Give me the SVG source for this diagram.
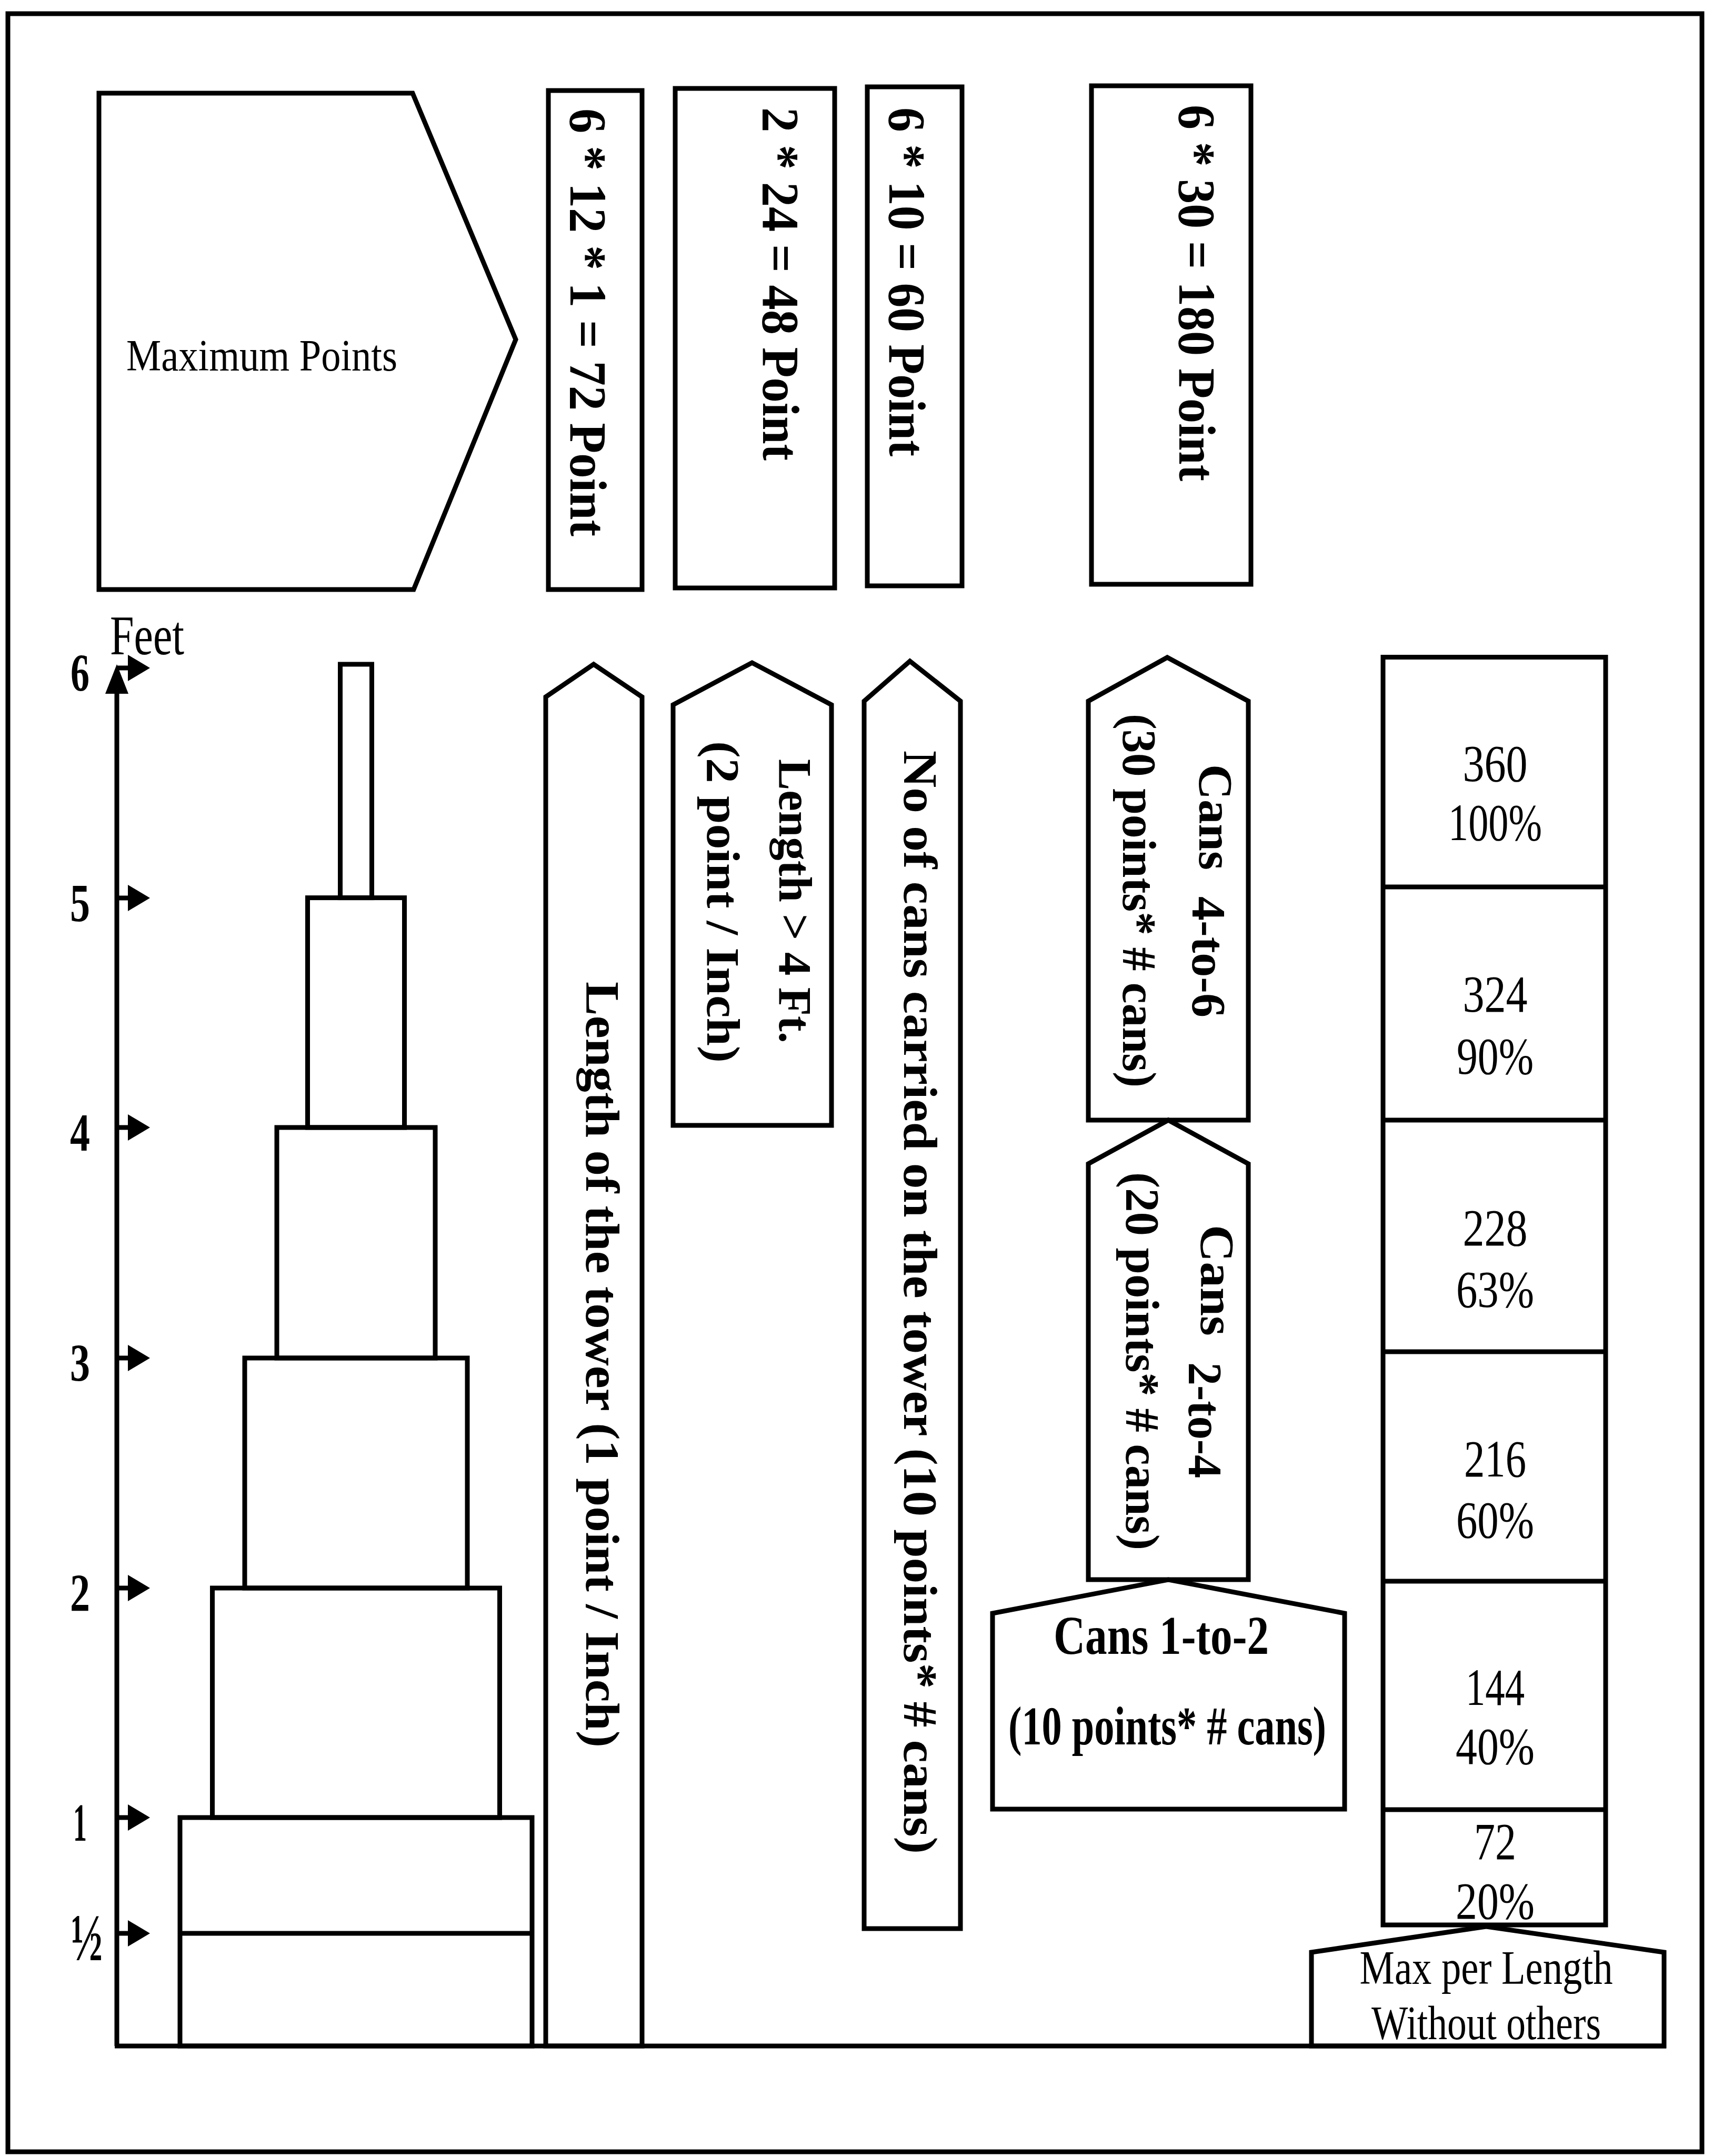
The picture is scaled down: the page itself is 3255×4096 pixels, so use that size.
<svg xmlns="http://www.w3.org/2000/svg" width="3255" height="4096" viewBox="0 0 3255 4096">
<style>
.s{fill:none;stroke:#000;stroke-width:9;stroke-linejoin:miter}
.f{fill:#000;stroke:none}
.r{font-family:"Liberation Serif","Times New Roman",serif;fill:#000}
.b{font-family:"Liberation Serif","Times New Roman",serif;font-weight:bold;fill:#000}
</style>
<rect width="3255" height="4096" fill="#fff"/>
<g id="frame"><rect class="s" x="15" y="26" width="3219" height="4062" stroke-width="10"/></g>

<g id="max-points">
<polygon class="s" points="188,177 784,177 980,645 786,1120 188,1120"/>
<text class="r" x="240" y="704" font-size="84" textLength="515" lengthAdjust="spacingAndGlyphs">Maximum Points</text>
</g>
<g id="box-72">
<rect class="s" x="1042" y="172" width="178" height="948"/>
<text class="b" transform="rotate(90)" x="206" y="-1084" font-size="100" textLength="813" lengthAdjust="spacingAndGlyphs">6 * 12 * 1 = 72 Point</text>
</g>
<g id="box-48">
<rect class="s" x="1283" y="168" width="303" height="949"/>
<text class="b" transform="rotate(90)" x="204" y="-1450" font-size="100" textLength="671" lengthAdjust="spacingAndGlyphs">2 * 24 = 48 Point</text>
</g>
<g id="box-60">
<rect class="s" x="1648" y="165" width="180" height="948"/>
<text class="b" transform="rotate(90)" x="204" y="-1690" font-size="100" textLength="663" lengthAdjust="spacingAndGlyphs">6 * 10 = 60 Point</text>
</g>
<g id="box-180">
<rect class="s" x="2074" y="163" width="303" height="947"/>
<text class="b" transform="rotate(90)" x="199" y="-2241" font-size="100" textLength="715" lengthAdjust="spacingAndGlyphs">6 * 30 = 180 Point</text>
</g>

<g id="axis">
<line class="s" x1="222" y1="3887" x2="222" y2="1300"/>
<polygon class="f" points="222,1262 200,1318 244,1318"/>
<line class="s" x1="218" y1="3887" x2="3166" y2="3887"/>
<text class="r" x="209" y="1243" font-size="106" textLength="141" lengthAdjust="spacingAndGlyphs">Feet</text>
<g id="ticks">
<line class="s" x1="222" y1="1269" x2="246" y2="1269" stroke-width="8"/><polygon class="f" points="243,1244 285,1269 243,1294"/>
<line class="s" x1="222" y1="1706" x2="246" y2="1706" stroke-width="8"/><polygon class="f" points="243,1681 285,1706 243,1731"/>
<line class="s" x1="222" y1="2142" x2="246" y2="2142" stroke-width="8"/><polygon class="f" points="243,2117 285,2142 243,2167"/>
<line class="s" x1="222" y1="2580" x2="246" y2="2580" stroke-width="8"/><polygon class="f" points="243,2555 285,2580 243,2605"/>
<line class="s" x1="222" y1="3017" x2="246" y2="3017" stroke-width="8"/><polygon class="f" points="243,2992 285,3017 243,3042"/>
<line class="s" x1="222" y1="3453" x2="246" y2="3453" stroke-width="8"/><polygon class="f" points="243,3428 285,3453 243,3478"/>
<line class="s" x1="222" y1="3673" x2="246" y2="3673" stroke-width="8"/><polygon class="f" points="243,3648 285,3673 243,3698"/>
</g>
<g id="tick-labels" class="b" font-size="102" text-anchor="middle">
<text x="152" y="1313" textLength="36" lengthAdjust="spacingAndGlyphs">6</text>
<text x="152" y="1750" textLength="38" lengthAdjust="spacingAndGlyphs">5</text>
<text x="152" y="2186" textLength="38" lengthAdjust="spacingAndGlyphs">4</text>
<text x="152" y="2624" textLength="38" lengthAdjust="spacingAndGlyphs">3</text>
<text x="152" y="3061" textLength="38" lengthAdjust="spacingAndGlyphs">2</text>
<text x="152" y="3497" textLength="26" lengthAdjust="spacingAndGlyphs">1</text>
<text x="165" y="3724" font-size="128" textLength="60" lengthAdjust="spacingAndGlyphs">½</text>
</g>
</g>

<g id="tower">
<rect class="s" x="646.5" y="1262" width="60" height="443.6"/>
<rect class="s" x="584.5" y="1705.6" width="184" height="436.4"/>
<rect class="s" x="526" y="2142" width="301" height="438"/>
<rect class="s" x="465" y="2580" width="423" height="437"/>
<rect class="s" x="403.5" y="3017" width="546" height="436"/>
<rect class="s" x="342" y="3453" width="669" height="434"/>
<line class="s" x1="342" y1="3673" x2="1011" y2="3673"/>
</g>

<g id="length-tower">
<polygon class="s" points="1037,3887 1037,1324 1128,1262 1220,1324 1220,3887"/>
<text class="b" transform="rotate(90)" x="1865" y="-1114" font-size="92" textLength="1455" lengthAdjust="spacingAndGlyphs">Length of the tower (1 point / Inch)</text>
</g>
<g id="length-4ft">
<polygon class="s" points="1279,2138 1279,1339 1429,1259 1580,1339 1580,2138"/>
<text class="b" transform="rotate(90)" x="1442" y="-1481" font-size="88" textLength="540" lengthAdjust="spacingAndGlyphs">Length &gt; 4 Ft.</text>
<text class="b" transform="rotate(90)" x="1408" y="-1344" font-size="88" textLength="611" lengthAdjust="spacingAndGlyphs">(2 point / Inch)</text>
</g>
<g id="no-of-cans">
<polygon class="s" points="1642,3664 1642,1332 1729,1256 1825,1332 1825,3664"/>
<text class="b" transform="rotate(90)" x="1426" y="-1718" font-size="92" textLength="2096" lengthAdjust="spacingAndGlyphs">No of cans carried on the tower (10 points* # cans)</text>
</g>
<g id="cans-4-6">
<polygon class="s" points="2068,2128 2068,1332 2218,1249 2372,1332 2372,2128"/>
<text class="b" transform="rotate(90)" x="1452" y="-2279" font-size="92" textLength="201" lengthAdjust="spacingAndGlyphs">Cans</text>
<text class="b" transform="rotate(90)" x="1703" y="-2266" font-size="92" textLength="230" lengthAdjust="spacingAndGlyphs">4-to-6</text>
<text class="b" transform="rotate(90)" x="1356" y="-2134" font-size="92" textLength="710" lengthAdjust="spacingAndGlyphs">(30 points* # cans)</text>
</g>
<g id="cans-2-4">
<polygon class="s" points="2068,3001 2068,2211 2220,2128 2372,2211 2372,3001"/>
<text class="b" transform="rotate(90)" x="2327" y="-2282" font-size="92" textLength="211" lengthAdjust="spacingAndGlyphs">Cans</text>
<text class="b" transform="rotate(90)" x="2588" y="-2259" font-size="92" textLength="220" lengthAdjust="spacingAndGlyphs">2-to-4</text>
<text class="b" transform="rotate(90)" x="2227" y="-2140" font-size="92" textLength="718" lengthAdjust="spacingAndGlyphs">(20 points* # cans)</text>
</g>
<g id="cans-1-2">
<polygon class="s" points="1886,3437 1886,3065 2220,3001 2555,3065 2555,3437"/>
<text class="b" x="2002" y="3142" font-size="104" textLength="409" lengthAdjust="spacingAndGlyphs">Cans 1-to-2</text>
<text class="b" x="1916" y="3314" font-size="104" textLength="604" lengthAdjust="spacingAndGlyphs">(10 points* # cans)</text>
</g>

<g id="scores">
<rect class="s" x="2628" y="1248.5" width="423" height="2408.5"/>
<line class="s" x1="2628" y1="1685" x2="3051" y2="1685"/>
<line class="s" x1="2628" y1="2128" x2="3051" y2="2128"/>
<line class="s" x1="2628" y1="2568" x2="3051" y2="2568"/>
<line class="s" x1="2628" y1="3004" x2="3051" y2="3004"/>
<line class="s" x1="2628" y1="3438" x2="3051" y2="3438"/>
<g class="r" font-size="100" text-anchor="middle">
<text x="2841" y="1484" textLength="123" lengthAdjust="spacingAndGlyphs">360</text>
<text x="2841" y="1596" textLength="178" lengthAdjust="spacingAndGlyphs">100%</text>
<text x="2841" y="1922" textLength="123" lengthAdjust="spacingAndGlyphs">324</text>
<text x="2841" y="2040" textLength="146" lengthAdjust="spacingAndGlyphs">90%</text>
<text x="2841" y="2366" textLength="123" lengthAdjust="spacingAndGlyphs">228</text>
<text x="2841" y="2483" textLength="148" lengthAdjust="spacingAndGlyphs">63%</text>
<text x="2841" y="2805" textLength="118" lengthAdjust="spacingAndGlyphs">216</text>
<text x="2841" y="2921" textLength="148" lengthAdjust="spacingAndGlyphs">60%</text>
<text x="2841" y="3239" textLength="112" lengthAdjust="spacingAndGlyphs">144</text>
<text x="2841" y="3351" textLength="150" lengthAdjust="spacingAndGlyphs">40%</text>
<text x="2841" y="3532" textLength="80" lengthAdjust="spacingAndGlyphs">72</text>
<text x="2841" y="3645" textLength="150" lengthAdjust="spacingAndGlyphs">20%</text>
</g>
</g>
<g id="max-per-length">
<polygon class="s" points="2492,3887 2492,3709 2824,3660 3162,3709 3162,3887"/>
<text class="r" x="2824" y="3769" font-size="90" text-anchor="middle" textLength="481" lengthAdjust="spacingAndGlyphs">Max per Length</text>
<text class="r" x="2824" y="3874" font-size="90" text-anchor="middle" textLength="436" lengthAdjust="spacingAndGlyphs">Without others</text>
</g>
</svg>
